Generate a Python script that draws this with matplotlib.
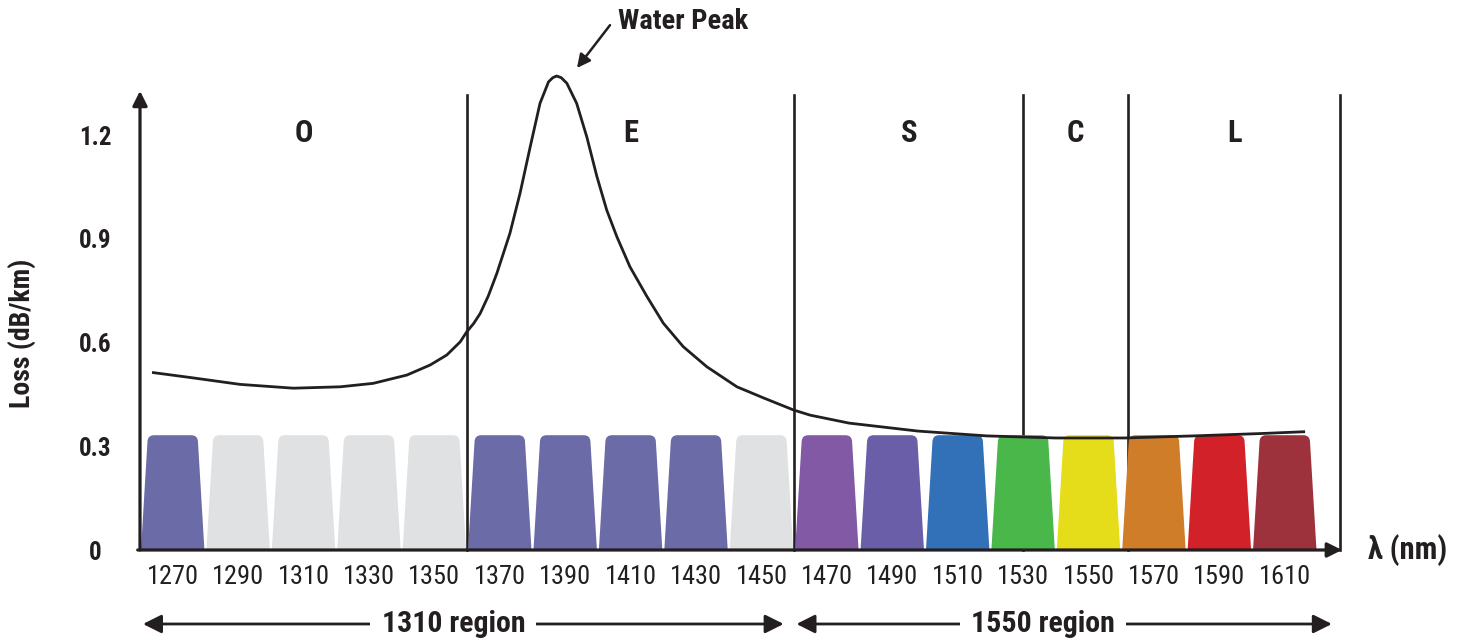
import matplotlib
matplotlib.use("Agg")
import matplotlib.pyplot as plt
from matplotlib.path import Path
from matplotlib.patches import PathPatch

plt.rcParams['font.family'] = ['Roboto Condensed', 'Roboto', 'DejaVu Sans']

# CWDM channels (nm) and their colours
channels = [1270, 1290, 1310, 1330, 1350, 1370, 1390, 1410, 1430, 1450,
            1470, 1490, 1510, 1530, 1550, 1570, 1590, 1610]
channel_colors = ['#6B6CA7', '#DFE1E2', '#DFE1E2', '#DFE1E2', '#DFE1E2',
                  '#6B6CA7', '#6B6CA7', '#6B6CA7', '#6B6CA7', '#DFE1E2',
                  '#8259A5', '#6A5EA8', '#3270B7', '#49B74A', '#E5DC1A',
                  '#CF7D28', '#D32129', '#9D323D']
channel_height = 0.332

# band edges and names
band_edges = [1260, 1360, 1460, 1530, 1562, 1627]
band_names = ['O', 'E', 'S', 'C', 'L']

# fibre attenuation curve
wl = [1264.1, 1275.3, 1290.6, 1306.9, 1321.2, 1331.3, 1341.6, 1348.7, 1353.8,
      1357.9, 1359.9, 1362.0, 1364.0, 1366.5, 1369.1, 1371.0, 1373.1, 1376.2,
      1379.3, 1382.3, 1384.9, 1386.2, 1387.4, 1388.8, 1390.5, 1393.5, 1396.6,
      1399.7, 1402.7, 1405.8, 1409.8, 1415.0, 1420.0, 1426.1, 1433.3, 1442.5,
      1450.6, 1459.8, 1464.9, 1476.8, 1497.8, 1518.9, 1540.0, 1561.0, 1582.1,
      1603.1, 1615.8]
loss = [0.513, 0.499, 0.479, 0.468, 0.472, 0.482, 0.506, 0.535, 0.564,
        0.602, 0.631, 0.655, 0.684, 0.735, 0.800, 0.855, 0.916, 1.032,
        1.166, 1.292, 1.354, 1.366, 1.371, 1.366, 1.350, 1.292, 1.195,
        1.080, 0.983, 0.906, 0.819, 0.733, 0.656, 0.588, 0.530, 0.472,
        0.440, 0.405, 0.390, 0.367, 0.344, 0.330, 0.324, 0.324, 0.330,
        0.337, 0.342]

yticks = [0, 0.3, 0.6, 0.9, 1.2]
ytick_labels = ['0', '0.3', '0.6', '0.9', '1.2']

ink = '#231F20'

fig = plt.figure(figsize=(14.61, 6.42), dpi=100)
ax = fig.add_axes([140 / 1461, 92 / 642, 1202 / 1461, 455 / 642])
ax.set_xlim(1260, 1627.5)
ax.set_ylim(0, 1.316)
for s in ax.spines.values():
    s.set_visible(False)


def channel_path(c, h, wb=9.7, wt=7.6, rx=1.9, ry=0.018):
    xs = c - wb + (wb - wt) * (h - ry) / h
    xe = c + wb - (wb - wt) * (h - ry) / h
    verts = [(c - wb, 0), (xs, h - ry), (c - wt, h), (c - wt + rx, h),
             (c + wt - rx, h), (c + wt, h), (xe, h - ry), (c + wb, 0), (c - wb, 0)]
    codes = [Path.MOVETO, Path.LINETO, Path.CURVE3, Path.CURVE3,
             Path.LINETO, Path.CURVE3, Path.CURVE3, Path.LINETO, Path.CLOSEPOLY]
    return Path(verts, codes)


# band boundaries (behind the channels)
for e in band_edges[1:]:
    ax.plot([e, e], [0, 1.316], color=ink, lw=1.9, zorder=1, clip_on=False)

for c, col in zip(channels, channel_colors):
    ax.add_patch(PathPatch(channel_path(c, channel_height), facecolor=col,
                           edgecolor='none', zorder=2))

ax.plot(wl, loss, color=ink, lw=2.0, zorder=3, clip_on=False,
        solid_joinstyle='round')

# axes with arrowheads
ax.annotate('', xy=(1260, 1.328), xytext=(1260, 0),
            arrowprops=dict(arrowstyle='-|>', color=ink, lw=2.3,
                            mutation_scale=22, shrinkA=0, shrinkB=0),
            annotation_clip=False, zorder=4)
ax.annotate('', xy=(1627.5, 0), xytext=(1259.3, 0),
            arrowprops=dict(arrowstyle='-|>', color=ink, lw=2.3,
                            mutation_scale=22, shrinkA=0, shrinkB=0),
            annotation_clip=False, zorder=4)

# tick labels
ax.set_xticks(channels)
ax.set_xticklabels([str(c) for c in channels], fontsize=19, color=ink)
ax.set_yticks(yticks)
ax.set_yticklabels(ytick_labels, fontsize=18, fontweight='bold', color=ink)
ax.tick_params(axis='x', length=0, pad=11)
ax.tick_params(axis='y', length=0, pad=32)
for lab in ax.get_yticklabels():
    lab.set_horizontalalignment('center')

fig.text(22 / 1461, 1 - 333 / 642, 'Loss (dB/km)', rotation=90, ha='center',
         va='center', fontsize=20, fontweight='bold', color=ink)
ax.text(1635.5, 0, 'λ (nm)', ha='left', va='center', fontsize=22,
        fontweight='bold', color=ink, clip_on=False)

# band names
for i, name in enumerate(band_names):
    ax.text((band_edges[i] + band_edges[i + 1]) / 2, 1.206, name, ha='center',
            va='center', fontsize=22, fontweight='bold', color=ink)

# water peak
ax.annotate('', xy=(1393.6, 1.394), xytext=(1403.7, 1.518),
            arrowprops=dict(arrowstyle='-|>', color=ink, lw=1.8,
                            mutation_scale=20, shrinkA=0, shrinkB=0),
            annotation_clip=False)
ax.text(1406.0, 1.530, 'Water Peak', ha='left', va='center', fontsize=20.5,
        fontweight='bold', color=ink, clip_on=False)

# region arrows
for x0, x1, xt, label in [(1260.9, 1456.8, 1355.8, '1310 region'),
                          (1460.7, 1624.4, 1536.2, '1550 region')]:
    ax.annotate('', xy=(x1, -0.214), xytext=(x0, -0.214),
                arrowprops=dict(arrowstyle='<|-|>', color=ink, lw=2.0,
                                mutation_scale=28, shrinkA=0, shrinkB=0),
                annotation_clip=False)
    ax.text(xt, -0.214, label, ha='center', va='center', fontsize=21.5,
            fontweight='bold', color=ink, clip_on=False,
            bbox=dict(facecolor='white', edgecolor='none', pad=8))

fig.savefig('out.png', dpi=100)
